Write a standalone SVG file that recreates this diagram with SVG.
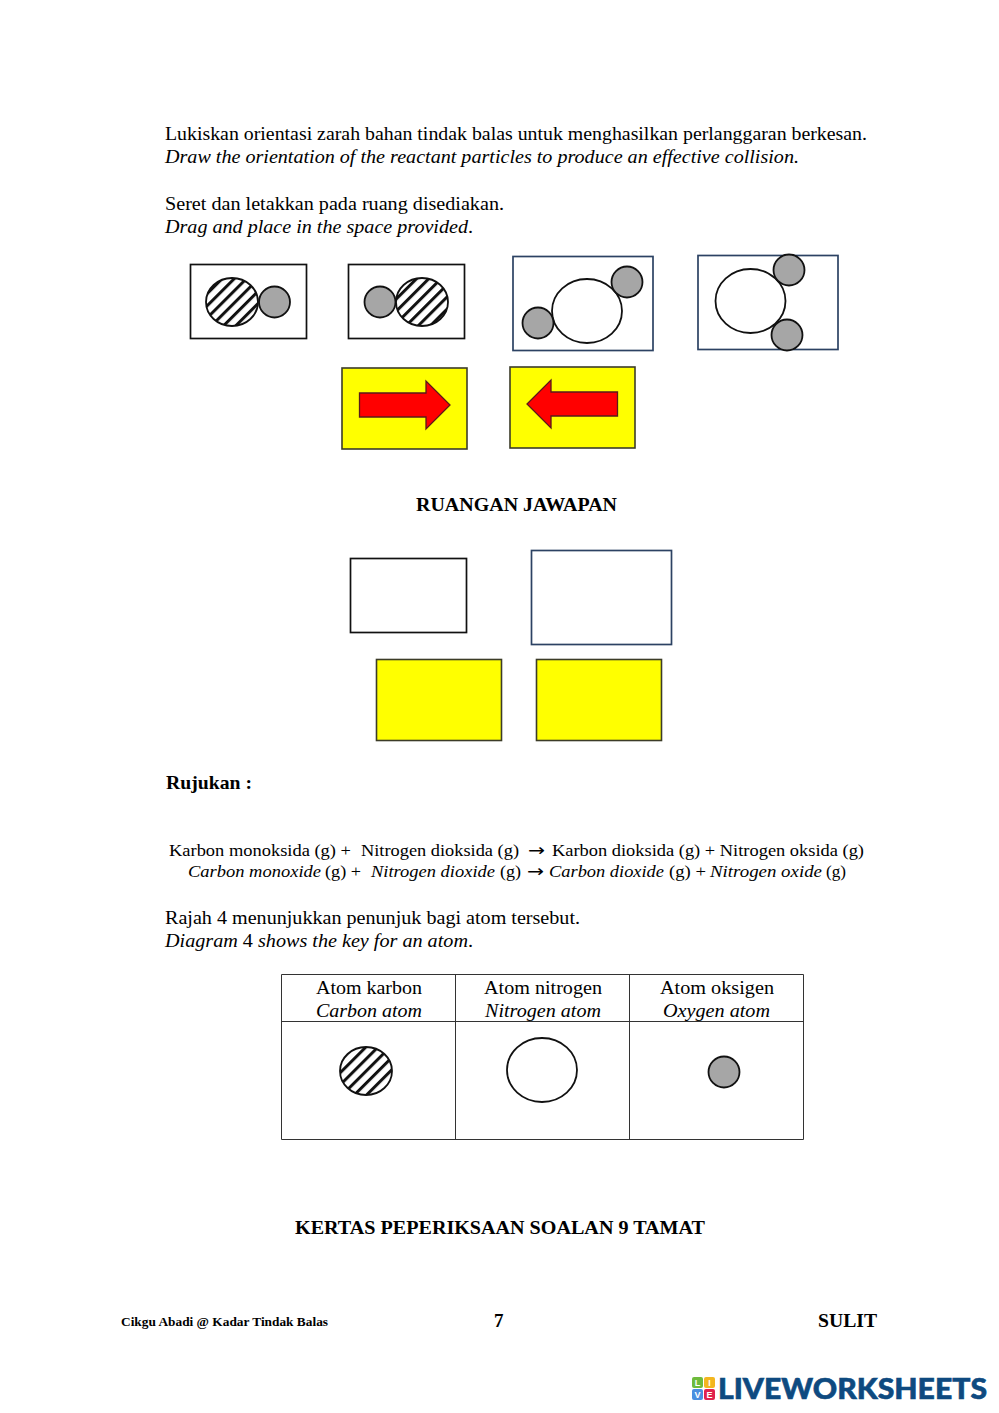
<svg xmlns="http://www.w3.org/2000/svg" width="999" height="1413" viewBox="0 0 999 1413">
<style>
text{font-family:"Liberation Serif","Times New Roman",serif;fill:#000;font-size:19.500px}
.i{font-style:italic}
.b{font-weight:bold;font-size:19px}
.eq{font-size:17.500px}
.ea{font-family:"DejaVu Sans",sans-serif;font-size:17px}
.bk{fill:#fff;stroke:#111;stroke-width:1.700}
.bn{fill:#fff;stroke:#2c4263;stroke-width:1.700}
.y{fill:#ff0;stroke:#3c3c28;stroke-width:1.600}
.ar{fill:#f00;stroke:#5a1a1a;stroke-width:1.300}
.g{fill:#a6a6a6;stroke:#111;stroke-width:1.800}
.w{fill:#fff;stroke:#111;stroke-width:1.800}
.h{fill:url(#hatch);stroke:#111;stroke-width:1.800}
.t{fill:none;stroke:#333;stroke-width:1}
.lg{font-family:"Liberation Sans",sans-serif;font-size:9px;fill:#fff;font-weight:bold;text-anchor:middle}
</style>
<defs>
<pattern id="hatch" patternUnits="userSpaceOnUse" width="8.600" height="8.600" patternTransform="rotate(45)">
<rect width="8.600" height="8.600" fill="#fff"/>
<rect width="3" height="8.600" fill="#111"/>
</pattern>
</defs>
<rect width="999" height="1413" fill="#fff"/>

<g id="intro">
<text x="165" y="140" textLength="702" lengthAdjust="spacingAndGlyphs">Lukiskan orientasi zarah bahan tindak balas untuk menghasilkan perlanggaran berkesan.</text>
<text x="165" y="163" class="i" textLength="634" lengthAdjust="spacingAndGlyphs">Draw the orientation of the reactant particles to produce an effective collision.</text>
<text x="165" y="210" textLength="339" lengthAdjust="spacingAndGlyphs">Seret dan letakkan pada ruang disediakan.</text>
<text x="165" y="233" textLength="308" lengthAdjust="spacingAndGlyphs"><tspan class="i">Drag and place in the space provided</tspan>.</text>
</g>

<g id="option-co">
<rect class="bk" x="190.500" y="264.500" width="116" height="74"/>
<ellipse class="h" cx="232" cy="302" rx="26" ry="24"/>
<circle class="g" cx="274.500" cy="302" r="15.500"/>
</g>
<g id="option-oc">
<rect class="bk" x="348.500" y="264.500" width="116" height="74"/>
<circle class="g" cx="380" cy="302" r="15.500"/>
<ellipse class="h" cx="422" cy="302" rx="26" ry="24"/>
</g>
<g id="option-ono">
<rect class="bn" x="513" y="256.500" width="140" height="94"/>
<ellipse class="w" cx="587" cy="311" rx="35" ry="32"/>
<circle class="g" cx="627" cy="282" r="15.500"/>
<circle class="g" cx="538" cy="323" r="15.500"/>
</g>
<g id="option-no2">
<rect class="bn" x="698" y="255.500" width="140" height="94"/>
<ellipse class="w" cx="750.500" cy="301" rx="35" ry="32"/>
<circle class="g" cx="789" cy="270" r="15.500"/>
<circle class="g" cx="787" cy="335" r="15.500"/>
</g>
<g id="arrow-right">
<rect class="y" x="342" y="368" width="125" height="81"/>
<path class="ar" d="M359.500 393H426V381L450 405L426 429V417H359.500Z"/>
</g>
<g id="arrow-left">
<rect class="y" x="510" y="367" width="125" height="81"/>
<path class="ar" d="M617.500 392H551V380L527 404L551 428V416H617.500Z"/>
</g>

<text id="heading" x="416" y="511" class="b" textLength="201" lengthAdjust="spacingAndGlyphs">RUANGAN JAWAPAN</text>

<g id="answer-1"><rect class="bk" x="350.500" y="558.500" width="116" height="74"/></g>
<g id="answer-2"><rect class="bn" x="531.500" y="550.500" width="140" height="94"/></g>
<g id="answer-3"><rect class="y" x="376.500" y="659.500" width="125" height="81"/></g>
<g id="answer-4"><rect class="y" x="536.500" y="659.500" width="125" height="81"/></g>

<text id="rujukan" x="166" y="789" class="b" textLength="86" lengthAdjust="spacingAndGlyphs">Rujukan :</text>

<g id="equation">
<text class="eq" x="169" y="856" textLength="182" lengthAdjust="spacingAndGlyphs">Karbon monoksida (g) +</text>
<text class="eq" x="361" y="856" textLength="158" lengthAdjust="spacingAndGlyphs">Nitrogen dioksida (g)</text>
<text class="ea" x="528" y="856" textLength="17" lengthAdjust="spacingAndGlyphs">→</text>
<text class="eq" x="552" y="856" textLength="312" lengthAdjust="spacingAndGlyphs">Karbon dioksida (g) + Nitrogen oksida (g)</text>
<text class="eq i" x="188" y="877" textLength="133" lengthAdjust="spacingAndGlyphs">Carbon monoxide</text>
<text class="eq" x="325" y="877" textLength="36" lengthAdjust="spacingAndGlyphs">(g) +</text>
<text class="eq i" x="371" y="877" textLength="124" lengthAdjust="spacingAndGlyphs">Nitrogen dioxide</text>
<text class="eq" x="500" y="877" textLength="21" lengthAdjust="spacingAndGlyphs">(g)</text>
<text class="ea" x="527" y="877" textLength="17" lengthAdjust="spacingAndGlyphs">→</text>
<text class="eq i" x="549" y="877" textLength="115" lengthAdjust="spacingAndGlyphs">Carbon dioxide</text>
<text class="eq" x="669" y="877" textLength="37" lengthAdjust="spacingAndGlyphs">(g) +</text>
<text class="eq i" x="710" y="877" textLength="112" lengthAdjust="spacingAndGlyphs">Nitrogen oxide</text>
<text class="eq" x="826" y="877" textLength="20" lengthAdjust="spacingAndGlyphs">(g)</text>
</g>

<g id="key-intro">
<text x="165" y="924" textLength="415" lengthAdjust="spacingAndGlyphs">Rajah 4 menunjukkan penunjuk bagi atom tersebut.</text>
<text x="165" y="947" textLength="308" lengthAdjust="spacingAndGlyphs"><tspan class="i">Diagram</tspan> 4 <tspan class="i">shows the key for an atom</tspan>.</text>
</g>

<g id="key-table">
<path class="t" d="M281.500 974.500H803.500V1139.500H281.500ZM281.500 1021.500H803.500M455.500 974.500V1139.500M629.500 974.500V1139.500"/>
<text x="316" y="994" textLength="106" lengthAdjust="spacingAndGlyphs">Atom karbon</text>
<text x="316" y="1017" class="i" textLength="106" lengthAdjust="spacingAndGlyphs">Carbon atom</text>
<text x="484" y="994" textLength="118" lengthAdjust="spacingAndGlyphs">Atom nitrogen</text>
<text x="485" y="1017" class="i" textLength="116" lengthAdjust="spacingAndGlyphs">Nitrogen atom</text>
<text x="660" y="994" textLength="114" lengthAdjust="spacingAndGlyphs">Atom oksigen</text>
<text x="663" y="1017" class="i" textLength="107" lengthAdjust="spacingAndGlyphs">Oxygen atom</text>
<ellipse class="h" cx="366" cy="1071" rx="26" ry="24"/>
<ellipse class="w" cx="542" cy="1070" rx="35" ry="32"/>
<circle class="g" cx="724" cy="1072" r="15.500"/>
</g>

<text id="closing" x="295" y="1234" class="b" textLength="410" lengthAdjust="spacingAndGlyphs">KERTAS PEPERIKSAAN SOALAN 9 TAMAT</text>

<g id="footer">
<text x="121" y="1326" style="font-size:12.500px;font-weight:bold" textLength="207" lengthAdjust="spacingAndGlyphs">Cikgu Abadi @ Kadar Tindak Balas</text>
<text x="494" y="1327" class="b">7</text>
<text x="818" y="1327" class="b" textLength="59" lengthAdjust="spacingAndGlyphs">SULIT</text>
</g>

<g id="logo">
<rect x="692" y="1377" width="11" height="11" rx="2" fill="#6ebb3c"/>
<rect x="704" y="1377" width="11" height="11" rx="2" fill="#f3b61f"/>
<rect x="692" y="1389" width="11" height="11" rx="2" fill="#4a8fe0"/>
<rect x="704" y="1389" width="11" height="11" rx="2" fill="#e0224e"/>
<text class="lg" x="697.500" y="1386">L</text>
<text class="lg" x="709.500" y="1386">I</text>
<text class="lg" x="697.500" y="1398">V</text>
<text class="lg" x="709.500" y="1398">E</text>
<text x="718" y="1399" style="font-family:Lato,'Liberation Sans',sans-serif;font-weight:900;font-size:29px;fill:#0e4a80;stroke:#0e4a80;stroke-width:0.600" textLength="269" lengthAdjust="spacingAndGlyphs">LIVEWORKSHEETS</text>
</g>
</svg>
